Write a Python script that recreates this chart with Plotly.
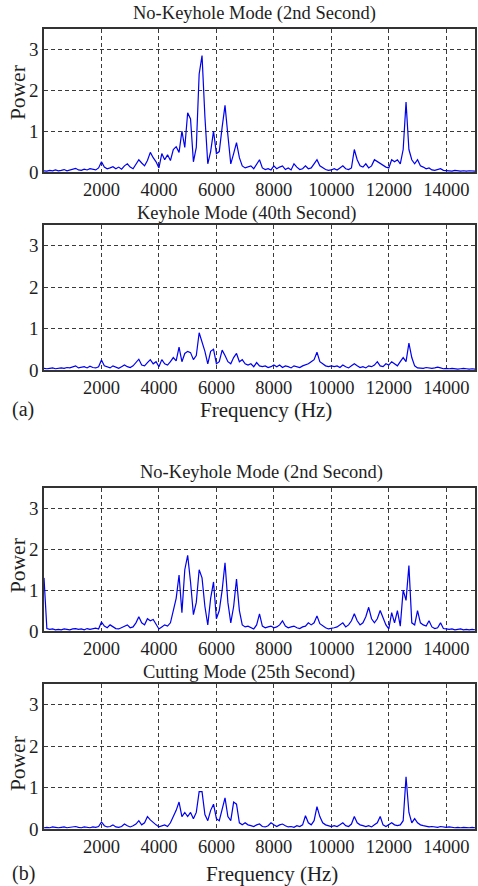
import plotly.graph_objects as go

# ---------------- data ----------------
FREQ_HZ = list(range(0, 15001, 100))

POWER_NOKEYHOLE_A = [
    0.03, 0.02, 0.04, 0.03, 0.05, 0.03, 0.04, 0.06, 0.03, 0.05, 0.07,
    0.09, 0.05, 0.04, 0.07, 0.05, 0.08, 0.06, 0.05, 0.10, 0.25,
    0.12, 0.08, 0.10, 0.13, 0.08, 0.12, 0.07, 0.15, 0.20, 0.12,
    0.08, 0.18, 0.30, 0.22, 0.15, 0.28, 0.48, 0.35, 0.25, 0.10,
    0.45, 0.30, 0.42, 0.28, 0.55, 0.62, 0.48, 1.00, 0.60, 1.45,
    1.30, 0.25, 0.60, 2.40, 2.85, 1.35, 0.20, 0.50, 1.00, 0.45,
    0.50, 1.10, 1.63, 0.90, 0.20, 0.45, 0.72, 0.35, 0.15, 0.10,
    0.12, 0.15, 0.08, 0.20, 0.30, 0.10, 0.06, 0.08, 0.05, 0.15,
    0.08, 0.12, 0.15, 0.06, 0.10, 0.05, 0.20, 0.12, 0.06, 0.08,
    0.15, 0.08, 0.10, 0.20, 0.30, 0.15, 0.10, 0.06, 0.04, 0.05,
    0.08, 0.05, 0.10, 0.15, 0.08, 0.06, 0.10, 0.55, 0.30, 0.15,
    0.12, 0.20, 0.10, 0.15, 0.30, 0.25, 0.20, 0.15, 0.12, 0.10,
    0.30, 0.25, 0.30, 0.20, 0.55, 1.71, 0.55, 0.30, 0.20, 0.30,
    0.15, 0.12, 0.08, 0.10, 0.05, 0.04, 0.06, 0.08, 0.04, 0.03,
    0.03, 0.02, 0.04, 0.03, 0.02, 0.03, 0.02, 0.03, 0.02, 0.02,
]

POWER_KEYHOLE_A = [
    0.04, 0.03, 0.04, 0.05, 0.03, 0.04, 0.05, 0.04, 0.06, 0.05, 0.07,
    0.10, 0.05, 0.06, 0.08, 0.05, 0.09, 0.06, 0.05, 0.08, 0.24,
    0.10, 0.07, 0.05, 0.10, 0.06, 0.04, 0.08, 0.12, 0.08, 0.06,
    0.10, 0.18, 0.26, 0.12, 0.10, 0.18, 0.25, 0.15, 0.20, 0.08,
    0.25, 0.15, 0.12, 0.20, 0.30, 0.22, 0.55, 0.20, 0.40, 0.45,
    0.42, 0.25, 0.35, 0.90, 0.70, 0.45, 0.15, 0.45, 0.50, 0.15,
    0.20, 0.48, 0.35, 0.20, 0.15, 0.30, 0.40, 0.20, 0.25, 0.15,
    0.12, 0.15, 0.08, 0.18, 0.10, 0.08, 0.10, 0.06, 0.08, 0.12,
    0.08, 0.12, 0.06, 0.10, 0.08, 0.05, 0.10, 0.08, 0.06, 0.10,
    0.12, 0.15, 0.20, 0.25, 0.43, 0.20, 0.15, 0.10, 0.08, 0.10,
    0.08, 0.10, 0.06, 0.12, 0.08, 0.05, 0.10, 0.15, 0.10, 0.06,
    0.08, 0.05, 0.10, 0.08, 0.12, 0.20, 0.10, 0.08, 0.15, 0.12,
    0.20, 0.15, 0.10, 0.20, 0.30, 0.20, 0.65, 0.30, 0.10, 0.05,
    0.05, 0.04, 0.06, 0.05, 0.04, 0.05, 0.07, 0.05, 0.03, 0.04,
    0.03, 0.04, 0.03, 0.02, 0.03, 0.04, 0.03, 0.02, 0.03, 0.02,
]

POWER_NOKEYHOLE_B = [
    1.30, 0.06, 0.04, 0.05, 0.03, 0.04, 0.03, 0.05, 0.04, 0.03, 0.05,
    0.06, 0.04, 0.05, 0.03, 0.06, 0.04, 0.05, 0.07, 0.05, 0.22,
    0.12, 0.08, 0.15, 0.10, 0.06, 0.05, 0.08, 0.12, 0.15, 0.08,
    0.10, 0.20, 0.35, 0.20, 0.15, 0.30, 0.25, 0.28, 0.15, 0.05,
    0.10, 0.15, 0.12, 0.20, 0.50, 0.80, 1.37, 0.45, 1.50, 1.85,
    1.20, 0.40, 0.70, 1.50, 1.30, 0.60, 0.15, 0.80, 1.20, 0.30,
    0.50, 1.00, 1.67, 0.70, 0.20, 0.60, 1.27, 0.50, 0.15, 0.10,
    0.12, 0.08, 0.05, 0.15, 0.42, 0.12, 0.08, 0.10, 0.12, 0.08,
    0.10, 0.15, 0.25, 0.12, 0.08, 0.10, 0.12, 0.08, 0.06, 0.10,
    0.12, 0.20, 0.15, 0.20, 0.37, 0.18, 0.12, 0.08, 0.05, 0.06,
    0.08, 0.10, 0.15, 0.20, 0.10, 0.15, 0.25, 0.42, 0.25, 0.15,
    0.20, 0.35, 0.58, 0.30, 0.20, 0.30, 0.50, 0.30, 0.15, 0.05,
    0.45, 0.20, 0.50, 0.12, 1.00, 0.75, 1.60, 0.20, 0.15, 0.50,
    0.20, 0.15, 0.12, 0.25, 0.10, 0.06, 0.08, 0.20, 0.06, 0.05,
    0.04, 0.05, 0.03, 0.04, 0.05, 0.03, 0.04, 0.03, 0.04, 0.03,
]

POWER_CUTTING_B = [
    0.03, 0.04, 0.03, 0.05, 0.04, 0.03, 0.04, 0.05, 0.03, 0.04, 0.05,
    0.06, 0.04, 0.03, 0.05, 0.04, 0.03, 0.05, 0.04, 0.06, 0.17,
    0.08, 0.05, 0.06, 0.10, 0.05, 0.04, 0.06, 0.12, 0.08, 0.05,
    0.08, 0.12, 0.20, 0.10, 0.15, 0.30, 0.22, 0.15, 0.10, 0.05,
    0.08, 0.10, 0.06, 0.15, 0.30, 0.45, 0.65, 0.30, 0.40, 0.30,
    0.40, 0.25, 0.40, 0.90, 0.90, 0.35, 0.20, 0.45, 0.60, 0.25,
    0.20, 0.50, 0.75, 0.30, 0.20, 0.65, 0.60, 0.15, 0.10, 0.15,
    0.10, 0.08, 0.06, 0.10, 0.12, 0.06, 0.05, 0.08, 0.15, 0.10,
    0.06, 0.10, 0.12, 0.08, 0.05, 0.06, 0.04, 0.08, 0.06, 0.10,
    0.32, 0.15, 0.10, 0.20, 0.54, 0.30, 0.15, 0.10, 0.08, 0.06,
    0.08, 0.06, 0.10, 0.15, 0.08, 0.06, 0.12, 0.30, 0.15, 0.10,
    0.08, 0.06, 0.08, 0.05, 0.10, 0.15, 0.30, 0.10, 0.06, 0.10,
    0.15, 0.10, 0.08, 0.10, 0.20, 1.26, 0.40, 0.15, 0.25, 0.15,
    0.10, 0.08, 0.06, 0.05, 0.06, 0.05, 0.04, 0.06, 0.05, 0.04,
    0.05, 0.04, 0.03, 0.04, 0.03, 0.04, 0.03, 0.03, 0.04, 0.03,
]

PANEL_TITLES = [
    "No-Keyhole Mode (2nd Second)",
    "Keyhole Mode (40th Second)",
    "No-Keyhole Mode (2nd Second)",
    "Cutting Mode (25th Second)",
]
X_TICKS = [2000, 4000, 6000, 8000, 10000, 12000, 14000]
Y_TICKS = [0, 1, 2, 3]

# ---------------- layout geometry ----------------
W, H = 478, 886
ML, MR, MT, MB = 44, 1, 29, 57
PH = H - MT - MB

def fy(py):
    """page pixel y -> paper fraction"""
    return (H - MB - py) / PH

def fx(px):
    return (px - ML) / (W - ML - MR)

panels = [  # (top px, bottom px)
    (29, 172),
    (225, 370),
    (488, 631),
    (684, 829),
]
series = [POWER_NOKEYHOLE_A, POWER_KEYHOLE_A, POWER_NOKEYHOLE_B, POWER_CUTTING_B]

FONT = "Liberation Serif"
TXT = "#1e1e1e"
fig = go.Figure()
layout = dict(
    width=W, height=H,
    margin=dict(l=ML, r=MR, t=MT, b=MB),
    paper_bgcolor="white", plot_bgcolor="white",
    showlegend=False,
    font=dict(family=FONT, color=TXT, size=18),
)

for i, ((top, bot), ys) in enumerate(zip(panels, series), start=1):
    xa = "x" if i == 1 else f"x{i}"
    ya = "y" if i == 1 else f"y{i}"
    fig.add_trace(go.Scatter(
        x=FREQ_HZ, y=ys, mode="lines",
        line=dict(color="#0000ee", width=1.2),
        xaxis=xa, yaxis=ya, hoverinfo="skip",
    ))
    layout[f"xaxis{i}" if i > 1 else "xaxis"] = dict(
        domain=[0, 1], anchor=ya, range=[0, 15000],
        tickvals=X_TICKS, ticktext=[str(v) for v in X_TICKS],
        showgrid=True, gridcolor="#3a3a3a", gridwidth=1, griddash="4px,3px",
        showline=True, linecolor="#333", linewidth=1.5, mirror=True,
        zeroline=False, ticks="", tickfont=dict(size=18.5, family=FONT, color=TXT),
    )
    layout[f"yaxis{i}" if i > 1 else "yaxis"] = dict(
        domain=[fy(bot), fy(top)], anchor=xa, range=[0, 3.5],
        tickvals=Y_TICKS, ticktext=[str(v) for v in Y_TICKS],
        showgrid=True, gridcolor="#3a3a3a", gridwidth=1, griddash="4px,3px",
        showline=True, linecolor="#333", linewidth=1.5, mirror=True,
        zeroline=False, ticks="", tickfont=dict(size=19, family=FONT, color=TXT),
    )

fig.update_layout(**layout)

ann = []
title_pos = [(255, 14), (247, 213), (263, 472), (250, 672)]
for t, (px, py) in zip(PANEL_TITLES, title_pos):
    ann.append(dict(text=t, x=fx(px), y=fy(py), xref="paper", yref="paper",
                    xanchor="center", yanchor="middle", showarrow=False,
                    font=dict(size=18.5, family=FONT, color=TXT)))
for py in (93, 566, 764):
    ann.append(dict(text="Power", x=fx(18), y=fy(py), xref="paper", yref="paper",
                    xanchor="center", yanchor="middle", showarrow=False, textangle=-90,
                    font=dict(size=21.5, family=FONT, color=TXT)))
for px, py in ((267, 410), (273, 874)):
    ann.append(dict(text="Frequency (Hz)", x=fx(px), y=fy(py), xref="paper", yref="paper",
                    xanchor="center", yanchor="middle", showarrow=False,
                    font=dict(size=21, family=FONT, color=TXT)))
for lab, py in (("(a)", 410), ("(b)", 874)):
    ann.append(dict(text=lab, x=fx(23), y=fy(py), xref="paper", yref="paper",
                    xanchor="center", yanchor="middle", showarrow=False,
                    font=dict(size=20, family=FONT, color=TXT)))
fig.update_layout(annotations=ann)

fig.write_html("out.html")
